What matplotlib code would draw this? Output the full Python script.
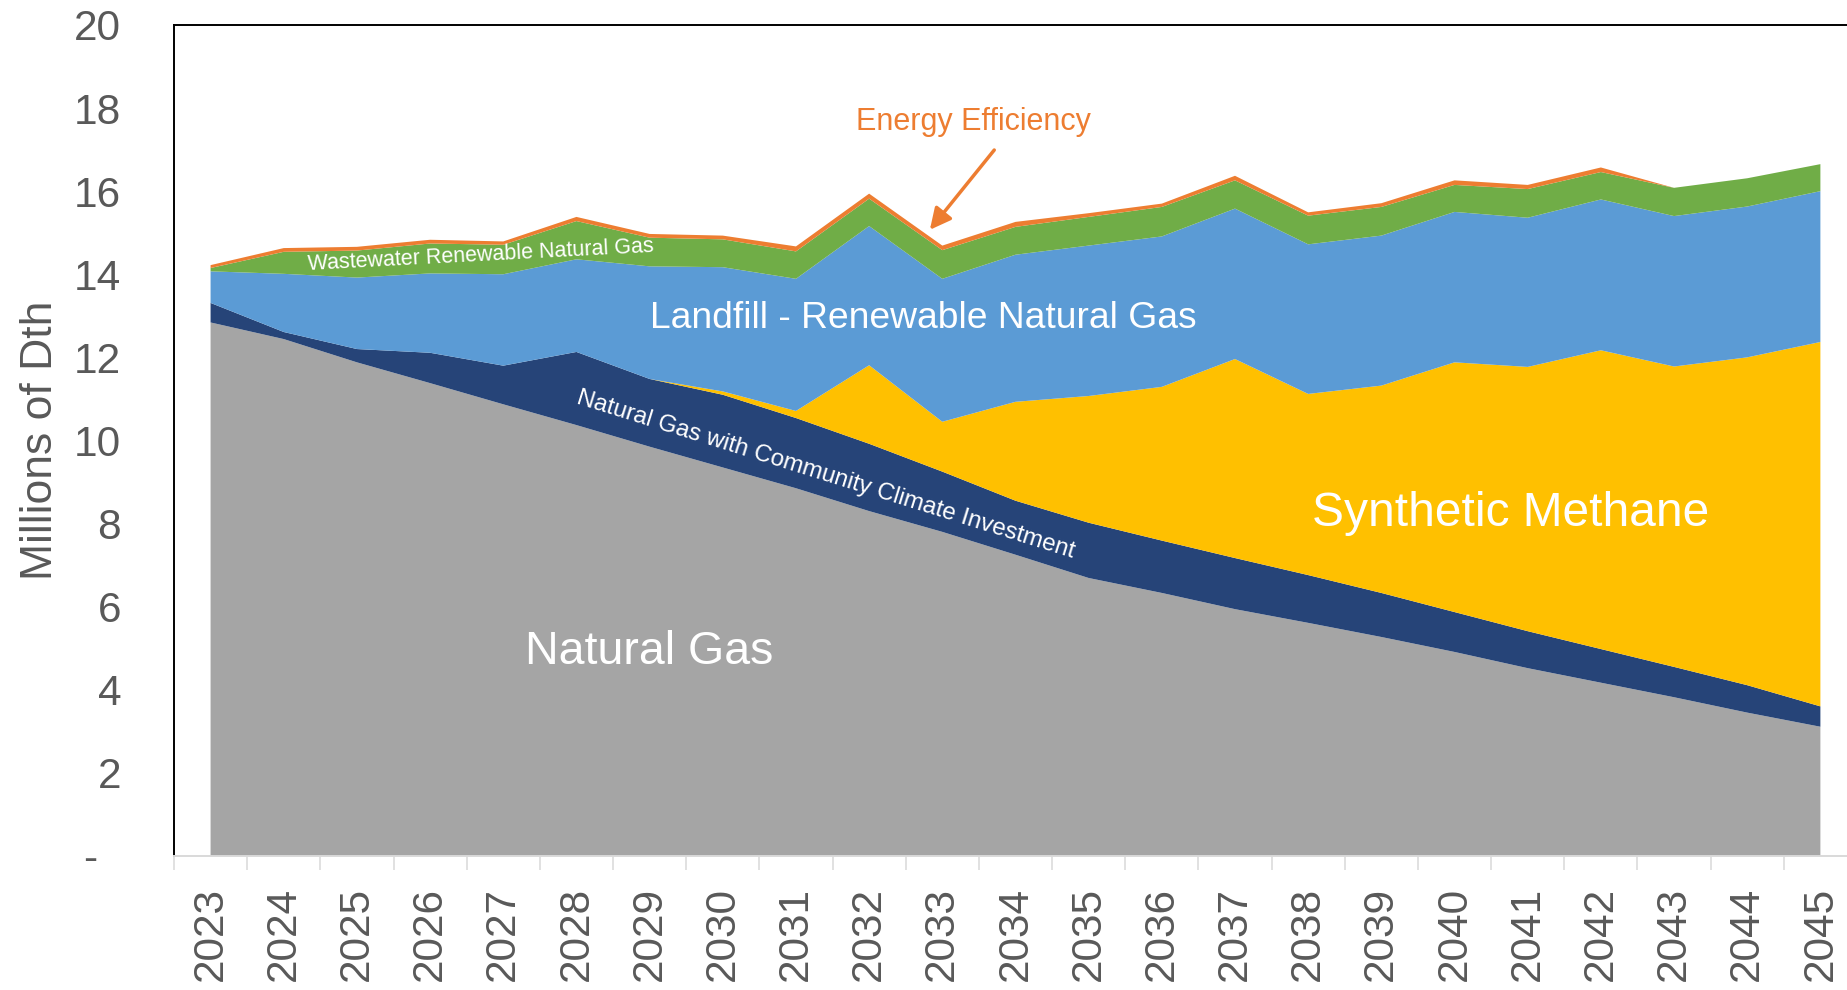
import numpy as np
import matplotlib
matplotlib.use("Agg")
import matplotlib.pyplot as plt

plt.rcParams['font.family'] = ['Liberation Sans', 'DejaVu Sans']

# Gas supply by resource, millions of Dth
years = [str(y) for y in range(2023, 2046)]
natural_gas = [12.84, 12.44, 11.88, 11.38, 10.87, 10.37, 9.85, 9.35, 8.85, 8.30, 7.80, 7.25,
               6.69, 6.33, 5.94, 5.61, 5.27, 4.91, 4.52, 4.17, 3.82, 3.45, 3.11]
ng_cci = [0.47, 0.17, 0.32, 0.73, 0.93, 1.76, 1.63, 1.75, 1.69, 1.62, 1.45, 1.30,
          1.33, 1.26, 1.23, 1.15, 1.06, 0.96, 0.89, 0.81, 0.73, 0.66, 0.49]
synthetic_methane = [0, 0, 0, 0, 0, 0, 0, 0.08, 0.17, 1.89, 1.20, 2.38,
                     3.05, 3.70, 4.79, 4.36, 4.99, 6.01, 6.36, 7.19, 7.23, 7.89, 8.77]
landfill_rng = [0.76, 1.40, 1.72, 1.91, 2.20, 2.23, 2.71, 2.99, 3.18, 3.35, 3.44, 3.54,
                3.62, 3.62, 3.62, 3.60, 3.61, 3.62, 3.59, 3.63, 3.62, 3.63, 3.63]
wastewater_rng = [0.08, 0.53, 0.65, 0.72, 0.71, 0.92, 0.69, 0.67, 0.66, 0.66, 0.69, 0.67,
                  0.69, 0.71, 0.68, 0.69, 0.69, 0.65, 0.69, 0.66, 0.68, 0.68, 0.65]
energy_efficiency = [0.07, 0.09, 0.09, 0.09, 0.08, 0.10, 0.09, 0.09, 0.12, 0.12, 0.11, 0.12,
                     0.09, 0.08, 0.11, 0.08, 0.09, 0.11, 0.10, 0.11, 0.0, 0.0, 0.0]

y_ticks = list(range(0, 21, 2))
y_tick_labels = ['-  '] + [str(v) for v in y_ticks[1:]]

colors = ['#A5A5A5', '#264478', '#FFC000', '#5B9BD5', '#70AD47', '#ED7D31']
text_gray = '#595959'

fig = plt.figure(figsize=(18.47, 9.90), dpi=100)
ax = fig.add_axes([0.0942, 0.1354, 0.9112, 0.8394])

x = np.arange(len(years))
ax.stackplot(x, natural_gas, ng_cci, synthetic_methane, landfill_rng,
             wastewater_rng, energy_efficiency, colors=colors, linewidth=0)

ax.set_xlim(-0.5, len(years) - 0.5)
ax.set_ylim(0, 20)

# axes styling
for side in ['left', 'top']:
    ax.spines[side].set_color('black')
    ax.spines[side].set_linewidth(1.4)
ax.spines['right'].set_visible(False)
ax.spines['bottom'].set_color('#D9D9D9')
ax.spines['bottom'].set_linewidth(1.4)

ax.set_yticks(y_ticks)
ax.set_yticklabels(y_tick_labels)
ax.tick_params(axis='y', length=0, pad=38, labelsize=30.5, labelcolor=text_gray)

ax.set_xticks(x)
ax.set_xticklabels(years, rotation=90)
ax.set_xticks(np.arange(-0.5, len(years)), minor=True)
ax.tick_params(axis='x', which='major', length=0, pad=22, labelsize=30.5, labelcolor=text_gray)
ax.tick_params(axis='x', which='minor', length=10, width=1.1, color='#D9D9D9')

ax.set_ylabel('Millions of Dth', fontsize=32, color=text_gray)
ax.yaxis.set_label_coords(-0.067, 0.5)

# in-chart labels
ax.text(6.0, 4.62, 'Natural Gas', fontsize=33.5, color='white', ha='center', va='baseline')
ax.text(17.76, 7.95, 'Synthetic Methane', fontsize=34.5, color='white', ha='center', va='baseline')
ax.text(9.735, 12.70, 'Landfill - Renewable Natural Gas', fontsize=26.8, color='white',
        ha='center', va='baseline')
ax.text(3.70, 14.31, 'Wastewater Renewable Natural Gas', fontsize=15.5, color='white',
        ha='center', va='baseline', rotation=3, rotation_mode='anchor')
ax.text(8.40, 9.18, 'Natural Gas with Community Climate Investment', fontsize=17.4,
        color='white', ha='center', va='center', rotation=-17.3, rotation_mode='anchor')
ax.text(10.43, 17.46, 'Energy Efficiency', fontsize=22, color=colors[5], ha='center', va='baseline')
ax.annotate('', xy=(9.83, 15.07), xytext=(10.71, 16.99),
            arrowprops=dict(arrowstyle='-|>', color=colors[5], lw=2.5, mutation_scale=32,
                            shrinkA=0, shrinkB=0))

fig.savefig('out.png', dpi=100)
